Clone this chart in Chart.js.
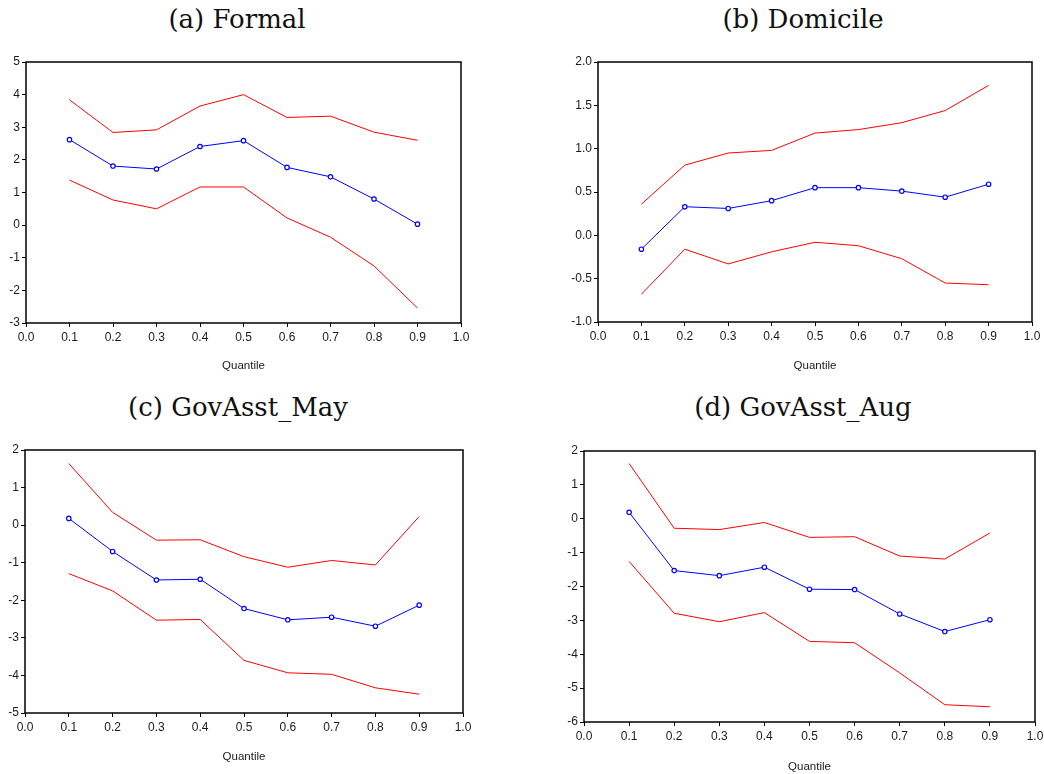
<!DOCTYPE html>
<html>
<head>
<meta charset="utf-8">
<script src="https://cdn.jsdelivr.net/npm/chart.js@4.4.1/dist/chart.umd.min.js"></script>
<style>
  body { margin: 0; background: #fff; width: 1044px; height: 774px; position: relative; overflow: hidden; }
  .box { position: absolute; }
  .title { position: absolute; width: 400px; text-align: center; font-family: "DejaVu Serif", serif; font-size: 26px; line-height: 30px; color: #111; white-space: nowrap; }
</style>
</head>
<body>
<div class="title" id="t-formal" style="left:37px;top:4px">(a) Formal</div>
<div class="title" id="t-domicile" style="left:603px;top:4px">(b) Domicile</div>
<div class="title" id="t-may" style="left:38px;top:392px">(c) GovAsst_May</div>
<div class="title" id="t-aug" style="left:603px;top:392px">(d) GovAsst_Aug</div>

<div class="box" style="left:0;top:45px;width:490px;height:335px"><canvas id="c-formal"></canvas></div>
<div class="box" style="left:550px;top:45px;width:494px;height:335px"><canvas id="c-domicile"></canvas></div>
<div class="box" style="left:0;top:435px;width:490px;height:339px"><canvas id="c-may"></canvas></div>
<div class="box" style="left:550px;top:435px;width:494px;height:339px"><canvas id="c-aug"></canvas></div>

<script>
const quantiles = [0.1, 0.2, 0.3, 0.4, 0.5, 0.6, 0.7, 0.8, 0.9];

// (a) Formal
const formalEst   = [2.62, 1.81, 1.72, 2.41, 2.59, 1.77, 1.48, 0.80, 0.03];
const formalUpper = [3.84, 2.84, 2.92, 3.65, 4.00, 3.30, 3.34, 2.85, 2.60];
const formalLower = [1.38, 0.77, 0.50, 1.17, 1.17, 0.22, -0.37, -1.25, -2.54];

// (b) Domicile
const domicileEst   = [-0.16, 0.33, 0.31, 0.40, 0.55, 0.55, 0.51, 0.44, 0.59];
const domicileUpper = [0.36, 0.81, 0.95, 0.98, 1.18, 1.22, 1.30, 1.44, 1.73];
const domicileLower = [-0.68, -0.16, -0.33, -0.19, -0.08, -0.12, -0.27, -0.55, -0.57];

// (c) GovAsst_May
const mayEst   = [0.18, -0.70, -1.46, -1.44, -2.22, -2.52, -2.45, -2.69, -2.13];
const mayUpper = [1.64, 0.34, -0.40, -0.39, -0.84, -1.12, -0.94, -1.06, 0.23];
const mayLower = [-1.29, -1.75, -2.53, -2.51, -3.60, -3.93, -3.97, -4.33, -4.50];

// (d) GovAsst_Aug
const augEst   = [0.19, -1.53, -1.68, -1.43, -2.08, -2.09, -2.81, -3.33, -2.98];
const augUpper = [1.63, -0.28, -0.32, -0.11, -0.55, -0.53, -1.10, -1.19, -0.42];
const augLower = [-1.26, -2.79, -3.04, -2.77, -3.62, -3.66, -4.55, -5.49, -5.55];

const xTicks = [0.0, 0.1, 0.2, 0.3, 0.4, 0.5, 0.6, 0.7, 0.8, 0.9, 1.0];

const tickFont = { family: "'Liberation Sans', Arial, sans-serif", size: 12 };
const inkColor = "#1a1a1a";

// black frame around the plotting area
const frame = {
    id: "frame",
    afterDraw(chart) {
        const { ctx, chartArea: a } = chart;
        ctx.save();
        ctx.strokeStyle = "#000";
        ctx.lineWidth = 1.5;
        ctx.strokeRect(a.left, a.top, a.right - a.left, a.bottom - a.top);
        ctx.restore();
    }
};

function points(values) {
    return quantiles.map((q, i) => ({ x: q, y: values[i] }));
}

// canvas: page box of the canvas, plot: page box of the plotting area
function makeChart(id, canvas, plot, est, upper, lower, yMin, yMax, yStep, yDigits, titleY) {
    const leftWidth = plot.l - canvas.x;
    const bottomHeight = canvas.y + canvas.h - plot.b;
    const lineHeight = 11.5 * 1.2;
    const titlePad = canvas.y + canvas.h - titleY - lineHeight / 2;

    return new Chart(document.getElementById(id), {
        type: "line",
        data: {
            datasets: [
                {
                    data: points(upper),
                    borderColor: "#ff0000",
                    borderWidth: 1,
                    pointRadius: 0,
                    tension: 0
                },
                {
                    data: points(lower),
                    borderColor: "#ff0000",
                    borderWidth: 1,
                    pointRadius: 0,
                    tension: 0
                },
                {
                    data: points(est),
                    borderColor: "#0000ff",
                    borderWidth: 1,
                    pointRadius: 2.2,
                    pointBorderWidth: 1.2,
                    pointBackgroundColor: "#ffffff",
                    pointBorderColor: "#0000ff",
                    tension: 0
                }
            ]
        },
        options: {
            responsive: true,
            maintainAspectRatio: false,
            animation: false,
            layout: {
                padding: { top: plot.t - canvas.y, right: canvas.x + canvas.w - plot.r, left: 0, bottom: 0 }
            },
            plugins: {
                legend: { display: false },
                tooltip: { enabled: false }
            },
            scales: {
                x: {
                    type: "linear",
                    min: 0,
                    max: 1,
                    afterBuildTicks(scale) {
                        scale.ticks = xTicks.map(v => ({ value: v }));
                    },
                    afterFit(scale) {
                        scale.height = bottomHeight;
                        scale.paddingLeft = 0;
                        scale.paddingRight = 0;
                    },
                    grid: { drawOnChartArea: false, drawTicks: true, tickLength: 4, color: "#000", lineWidth: 1 },
                    border: { display: false },
                    ticks: {
                        color: inkColor,
                        font: tickFont,
                        padding: 3,
                        maxRotation: 0,
                        autoSkip: false,
                        callback: v => v.toFixed(1)
                    },
                    title: {
                        display: true,
                        text: "Quantile",
                        color: inkColor,
                        font: { family: tickFont.family, size: 11.5 },
                        padding: { top: 0, bottom: titlePad }
                    }
                },
                y: {
                    min: yMin,
                    max: yMax,
                    afterBuildTicks(scale) {
                        const t = [];
                        for (let v = yMin; v <= yMax + 1e-9; v += yStep) t.push({ value: +v.toFixed(2) });
                        scale.ticks = t;
                    },
                    afterFit(scale) {
                        scale.width = leftWidth;
                        scale.paddingTop = 0;
                        scale.paddingBottom = 0;
                    },
                    grid: { drawOnChartArea: false, drawTicks: true, tickLength: 4, color: "#000", lineWidth: 1 },
                    border: { display: false },
                    ticks: {
                        color: inkColor,
                        font: tickFont,
                        padding: 2,
                        autoSkip: false,
                        callback: v => v.toFixed(yDigits)
                    }
                }
            }
        },
        plugins: [frame]
    });
}

makeChart("c-formal",
    { x: 0, y: 45, w: 490, h: 335 }, { l: 26, t: 62, r: 461, b: 323 },
    formalEst, formalUpper, formalLower, -3, 5, 1, 0, 366);

makeChart("c-domicile",
    { x: 550, y: 45, w: 494, h: 335 }, { l: 598, t: 62, r: 1032, b: 322 },
    domicileEst, domicileUpper, domicileLower, -1, 2, 0.5, 1, 366);

makeChart("c-may",
    { x: 0, y: 435, w: 490, h: 339 }, { l: 25, t: 450, r: 463, b: 713 },
    mayEst, mayUpper, mayLower, -5, 2, 1, 0, 757);

makeChart("c-aug",
    { x: 550, y: 435, w: 494, h: 339 }, { l: 584, t: 451, r: 1035, b: 722 },
    augEst, augUpper, augLower, -6, 2, 1, 0, 767);
</script>
</body>
</html>
